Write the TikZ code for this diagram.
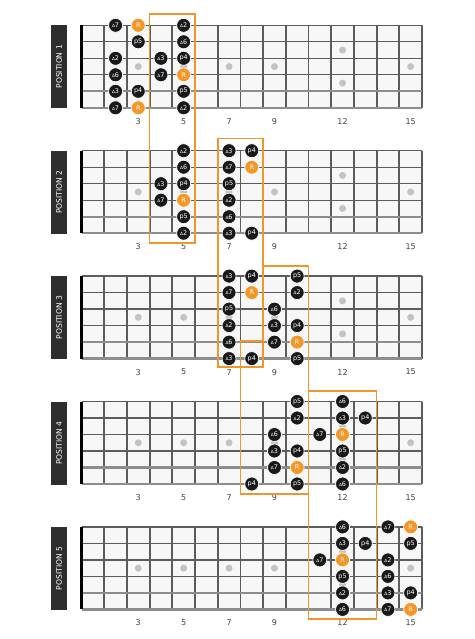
\documentclass[tikz,border=0pt]{standalone}
\usepackage{fontspec}
\setmainfont{DejaVu Sans}
\definecolor{boxorange}{RGB}{240,150,42}
\definecolor{rootorange}{RGB}{243,152,40}
\definecolor{fretgray}{RGB}{92,92,92}
\definecolor{boardbg}{RGB}{247,247,247}
\definecolor{dotgray}{RGB}{195,195,195}
\definecolor{labelbg}{RGB}{45,45,45}
\newcommand{\mj}[1]{{\fontsize{4.3}{5}\selectfont Δ}#1}
\newcommand{\xo}{81.5}  % nut
\newcommand{\fw}{22.7}  % fret width
\newcommand{\sw}{16.5}  % string gap

\begin{document}
\begin{tikzpicture}
[
    x=1pt, y=-1pt,
    fretline/.style={draw=fretgray, line width=1.8pt},
    stringline/.style={draw=fretgray, line width=1.3pt},
    woundline/.style={draw=fretgray!70, line width=2.3pt},   % wound strings
    nutline/.style={draw=black, line width=2.6pt},
    inlay/.style={circle, fill=dotgray, minimum size=7pt, inner sep=0pt},
    note/.style={circle, fill=black!90, draw=white, line width=0.7pt, minimum size=14pt, inner sep=0pt, text=white, font=\fontsize{6.4}{7}\selectfont},
    root/.style={note, fill=rootorange},
    fretnum/.style={text=black!75, font=\fontsize{8}{9}\selectfont},
    poslabel/.style={fill=labelbg, text=white, minimum width=83pt, minimum height=16.5pt, inner sep=0pt, font=\fontsize{7.6}{8}\selectfont},
    sharebox/.style={draw=boxorange, line width=1.7pt},
]
\useasboundingbox (0,0) rectangle (474,639);

% five fretboards
\foreach \i in {1,...,5} {
  \pgfmathsetmacro\top{25.3+125.4*(\i-1)}
  \begin{scope}[shift={(0,\top)}]
    \fill[boardbg] (\xo,0) rectangle ({\xo+15*\fw},{5*\sw});
    \foreach \f in {3,5,7,9,15}
      \node[inlay] (dot\i-\f) at ({\xo+\fw*(\f-0.5)},{2.5*\sw}) {};
    \node[inlay] (dot\i-12a) at ({\xo+\fw*11.5},{1.5*\sw}) {};
    \node[inlay] (dot\i-12b) at ({\xo+\fw*11.5},{3.5*\sw}) {};
    \foreach \k in {1,...,15}
      \draw[fretline] ({\xo+\fw*\k},0) -- ({\xo+\fw*\k},{5*\sw});
    \foreach \r in {0,...,3}
      \draw[stringline] (\xo,{\sw*\r}) -- ({\xo+15*\fw},{\sw*\r});
    \foreach \r in {4,5}
      \draw[woundline] (\xo,{\sw*\r}) -- ({\xo+15*\fw},{\sw*\r});
    \draw[nutline] (\xo,0) -- (\xo,{5*\sw});
    \foreach \f in {3,5,7,9,12,15}
      \node[fretnum] (num\i-\f) at ({\xo+\fw*(\f-0.5)},96) {\f};
    \node[poslabel, rotate=90] (pos\i) at (59,41.5) {POSITION \i};
  \end{scope}
}

% position 1
\begin{scope}[shift={(0,25.3)}]
\foreach \f/\r/\s/\t in {2/1/note/\mj7, 3/1/root/R, 5/1/note/\mj2, 3/2/note/p5, 5/2/note/\mj6,
    2/3/note/\mj2, 4/3/note/\mj3, 5/3/note/p4, 2/4/note/\mj6, 4/4/note/\mj7, 5/4/root/R,
    2/5/note/\mj3, 3/5/note/p4, 5/5/note/p5, 2/6/note/\mj7, 3/6/root/R, 5/6/note/\mj2}
  \node[\s] (a\f-\r) at ({\xo+\fw*(\f-0.5)},{\sw*(\r-1)}) {\t};
\end{scope}

% position 2
\begin{scope}[shift={(0,150.7)}]
\foreach \f/\r/\s/\t in {5/1/note/\mj2, 7/1/note/\mj3, 8/1/note/p4, 5/2/note/\mj6, 7/2/note/\mj7, 8/2/root/R,
    4/3/note/\mj3, 5/3/note/p4, 7/3/note/p5, 4/4/note/\mj7, 5/4/root/R, 7/4/note/\mj2,
    5/5/note/p5, 7/5/note/\mj6, 5/6/note/\mj2, 7/6/note/\mj3, 8/6/note/p4}
  \node[\s] (b\f-\r) at ({\xo+\fw*(\f-0.5)},{\sw*(\r-1)}) {\t};
\end{scope}

% position 3
\begin{scope}[shift={(0,276.1)}]
\foreach \f/\r/\s/\t in {7/1/note/\mj3, 8/1/note/p4, 10/1/note/p5, 7/2/note/\mj7, 8/2/root/R, 10/2/note/\mj2,
    7/3/note/p5, 9/3/note/\mj6, 7/4/note/\mj2, 9/4/note/\mj3, 10/4/note/p4,
    7/5/note/\mj6, 9/5/note/\mj7, 10/5/root/R, 7/6/note/\mj3, 8/6/note/p4, 10/6/note/p5}
  \node[\s] (c\f-\r) at ({\xo+\fw*(\f-0.5)},{\sw*(\r-1)}) {\t};
\end{scope}

% position 4
\begin{scope}[shift={(0,401.5)}]
\foreach \f/\r/\s/\t in {10/1/note/p5, 12/1/note/\mj6, 10/2/note/\mj2, 12/2/note/\mj3, 13/2/note/p4,
    9/3/note/\mj6, 11/3/note/\mj7, 12/3/root/R, 9/4/note/\mj3, 10/4/note/p4, 12/4/note/p5,
    9/5/note/\mj7, 10/5/root/R, 12/5/note/\mj2, 8/6/note/p4, 10/6/note/p5, 12/6/note/\mj6}
  \node[\s] (d\f-\r) at ({\xo+\fw*(\f-0.5)},{\sw*(\r-1)}) {\t};
\end{scope}

% position 5
\begin{scope}[shift={(0,526.9)}]
\foreach \f/\r/\s/\t in {12/1/note/\mj6, 14/1/note/\mj7, 15/1/root/R, 12/2/note/\mj3, 13/2/note/p4, 15/2/note/p5,
    11/3/note/\mj7, 12/3/root/R, 14/3/note/\mj2, 12/4/note/p5, 14/4/note/\mj6,
    12/5/note/\mj2, 14/5/note/\mj3, 15/5/note/p4, 12/6/note/\mj6, 14/6/note/\mj7, 15/6/root/R}
  \node[\s] (e\f-\r) at ({\xo+\fw*(\f-0.5)},{\sw*(\r-1)}) {\t};
\end{scope}

% shared frets between positions
\draw[sharebox] ({\xo+3*\fw},14) rectangle ({\xo+5*\fw},243);
\draw[sharebox] ({\xo+6*\fw},138.5) rectangle ({\xo+8*\fw},367);
\draw[sharebox] ({\xo+8*\fw},266) -- ({\xo+10*\fw},266) -- ({\xo+10*\fw},494)
    -- ({\xo+7*\fw},494) -- ({\xo+7*\fw},341) -- ({\xo+8*\fw},341) -- cycle;
\draw[sharebox] ({\xo+10*\fw},391) rectangle ({\xo+13*\fw},619);
\end{tikzpicture}
\end{document}
